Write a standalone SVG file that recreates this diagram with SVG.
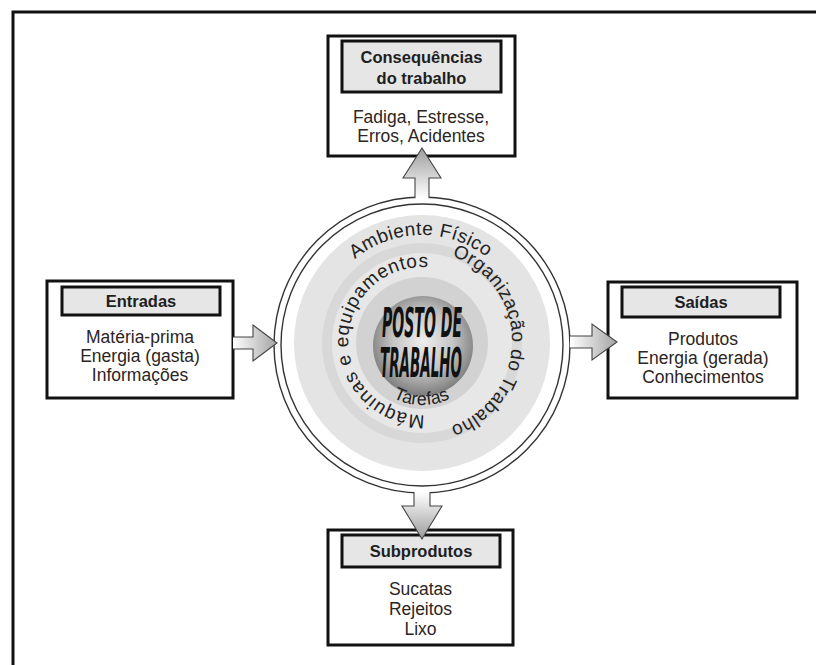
<svg xmlns="http://www.w3.org/2000/svg" width="816" height="665" viewBox="0 0 816 665">
<style>
.box{fill:#fff;stroke:#111;stroke-width:3}
.hdr{fill:#e6e6e6;stroke:#111;stroke-width:3}
.ht{font-family:"Liberation Sans",Arial,sans-serif;font-weight:bold;font-size:16.5px;fill:#1e1e1e;text-anchor:middle}
.bt{font-family:"Liberation Sans",Arial,sans-serif;font-size:17.5px;fill:#2b2523;text-anchor:middle}
.ct{font-family:"Liberation Sans",Arial,sans-serif;font-size:19px;fill:#222}
.pt{font-family:"Liberation Sans Narrow","DejaVu Sans Condensed","Liberation Sans",sans-serif;font-weight:bold;font-style:italic;font-size:40px;fill:#111;text-anchor:middle}
.af{stroke:none}
.ao{fill:none;stroke:#444;stroke-width:1.1;stroke-linejoin:miter}
.ring{fill:none;stroke:#333;stroke-width:1.4}
</style>
<defs>
<linearGradient id="gUp" x1="0" y1="1" x2="0" y2="0"><stop offset="0" stop-color="#ffffff"/><stop offset="1" stop-color="#9c9c9c"/></linearGradient>
<linearGradient id="gDown" x1="0" y1="0" x2="0" y2="1"><stop offset="0" stop-color="#ffffff"/><stop offset="1" stop-color="#9c9c9c"/></linearGradient>
<linearGradient id="gRight" x1="0" y1="0" x2="1" y2="0"><stop offset="0" stop-color="#ffffff"/><stop offset="1" stop-color="#a4a4a4"/></linearGradient>
<radialGradient id="gSphere" cx="50%" cy="45%" r="55%"><stop offset="0" stop-color="#eeeeee"/><stop offset="0.55" stop-color="#c4c4c4"/><stop offset="1" stop-color="#7c7c7c"/></radialGradient>
<path id="pAmb" d="M354.9,259.0 A106,106 0 0 1 487.0,257.2"/>
<path id="pOrg" d="M451.9,256.1 A90,90 0 0 1 450.7,426.3"/>
<path id="pMaq" d="M424.6,415.0 A74,74 0 1 1 427.2,267.2"/>
<path id="pTar" d="M392.9,398.0 A64,64 0 0 0 450.0,398.5"/>
</defs>
<rect width="816" height="665" fill="#fff"/>
<path d="M13,665 V12 H816" fill="none" stroke="#111" stroke-width="3"/>

<g id="consequencias">
<rect class="box" x="328" y="36" width="187" height="120"/>
<rect class="hdr" x="342" y="41" width="159" height="51"/>
<text class="ht" x="421.5" y="63">Consequências</text>
<text class="ht" x="421.5" y="84">do trabalho</text>
<text class="bt" x="421" y="123">Fadiga, Estresse,</text>
<text class="bt" x="421" y="142">Erros, Acidentes</text>
</g>

<g id="entradas">
<rect class="box" x="47" y="281" width="186" height="117"/>
<rect class="hdr" x="62" y="287" width="158" height="28"/>
<text class="ht" x="141" y="307">Entradas</text>
<text class="bt" x="140" y="343">Matéria-prima</text>
<text class="bt" x="140" y="362">Energia (gasta)</text>
<text class="bt" x="140" y="381">Informações</text>
</g>

<g id="saidas">
<rect class="box" x="608" y="282" width="189" height="116"/>
<rect class="hdr" x="622" y="287" width="158" height="30"/>
<text class="ht" x="701" y="308">Saídas</text>
<text class="bt" x="703" y="345">Produtos</text>
<text class="bt" x="703" y="364">Energia (gerada)</text>
<text class="bt" x="703" y="383">Conhecimentos</text>
</g>

<g id="subprodutos">
<rect class="box" x="328" y="530" width="185" height="115"/>
<rect class="hdr" x="342" y="535" width="158" height="32"/>
<text class="ht" x="421" y="557">Subprodutos</text>
<text class="bt" x="420.5" y="595">Sucatas</text>
<text class="bt" x="420.5" y="615">Rejeitos</text>
<text class="bt" x="420.5" y="635">Lixo</text>
</g>

<g id="posto">
<circle cx="422" cy="345" r="148" fill="#fff"/>
<circle cx="422" cy="343" r="128" fill="#e4e4e4"/>
<circle cx="422" cy="343" r="100" fill="#d8d8d8"/>
<circle cx="422" cy="343" r="90" fill="#e7e7e7"/>
<circle cx="422" cy="343" r="66" fill="#d2d2d2"/>
<circle cx="422" cy="345" r="148" class="ring"/>
<circle cx="422" cy="345" r="141" class="ring"/>
<circle cx="423" cy="346" r="50" fill="url(#gSphere)"/>
<text class="ct"><textPath href="#pAmb" textLength="142" lengthAdjust="spacing">Ambiente Físico</textPath></text>
<text class="ct"><textPath href="#pOrg" textLength="223" lengthAdjust="spacing">Organização do Trabalho</textPath></text>
<text class="ct"><textPath href="#pMaq" textLength="240" lengthAdjust="spacing">Máquinas e equipamentos</textPath></text>
<text class="ct" style="font-size:18px"><textPath href="#pTar" textLength="59" lengthAdjust="spacing">Tarefas</textPath></text>
<text class="pt" x="422" y="337" textLength="80" lengthAdjust="spacingAndGlyphs">POSTO DE</text>
<text class="pt" x="421" y="377" textLength="82" lengthAdjust="spacingAndGlyphs">TRABALHO</text>
</g>

<g id="connectors">
<polygon class="af" fill="url(#gUp)" points="422,148 441,178 429,178 429,198 415,198 415,178 403,178"/>
<polyline class="ao" points="429,198 429,178 441,178 422,148 403,178 415,178 415,198"/>
<polygon class="af" fill="url(#gDown)" points="414,492 430,492 430,506 442,506 422,539 402,506 414,506"/>
<polyline class="ao" points="414,492 414,506 402,506 422,539 442,506 430,506 430,492"/>
<polygon class="af" fill="url(#gRight)" points="233,337 253,337 253,325 277,343 253,361 253,349 233,349"/>
<polyline class="ao" points="233,337 253,337 253,325 277,343 253,361 253,349 233,349"/>
<polygon class="af" fill="url(#gRight)" points="570,336 592,336 592,324 617,342 592,360 592,348 570,348"/>
<polyline class="ao" points="570,336 592,336 592,324 617,342 592,360 592,348 570,348"/>
</g>
</svg>
